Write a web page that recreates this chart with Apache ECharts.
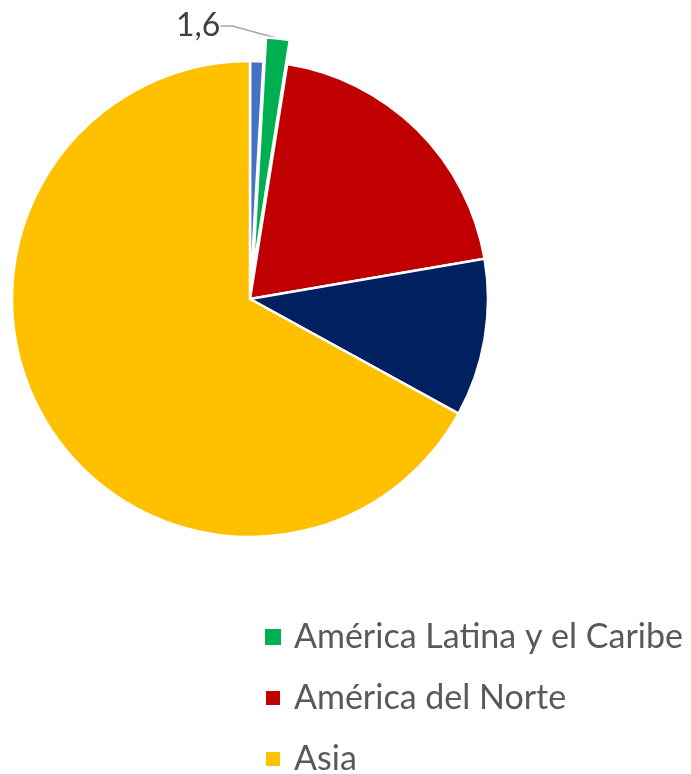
<!DOCTYPE html>
<html><head><meta charset="utf-8">
<script src="https://cdn.jsdelivr.net/npm/echarts@6/dist/echarts.min.js"></script>
<style>html,body{margin:0;padding:0;background:#fff}#c{width:691px;height:774px}</style>
</head><body><div id="c"></div>
<script>
const categories = ['Europa', 'América Latina y el Caribe', 'América del Norte', 'Otros', 'Asia'];
const values = [0.9, 1.6, 19.8, 10.7, 67.0];
const colors = ['#4472C4', '#00B050', '#C00000', '#002060', '#FFC000'];
const legendItems = ['América Latina y el Caribe', 'América del Norte', 'Asia'];
const exploded = 'América Latina y el Caribe';

const CX = 250, CY = 299, R = 238, OFFSET = 24;
const total = values.reduce((a, b) => a + b, 0);
const ei = categories.indexOf(exploded);
const before = values.slice(0, ei).reduce((a, b) => a + b, 0);
const midAng = (before + values[ei] / 2) / total * 2 * Math.PI;
const ecx = CX + OFFSET * Math.sin(midAng), ecy = CY - OFFSET * Math.cos(midAng);
const clear = 'rgba(0,0,0,0)';

const chart = echarts.init(document.getElementById('c'), null, {renderer: 'canvas'});
chart.setOption({
  animation: false,
  legend: {
    data: legendItems.map(n => ({name: n, itemStyle: {color: colors[categories.indexOf(n)]}})),
    orient: 'vertical',
    left: 264,
    top: 620,
    height: 170,
    padding: 0,
    itemWidth: 16,
    itemHeight: 16,
    itemGap: 27,
    icon: 'rect',
    textStyle: {fontFamily: 'Lato', fontSize: 34, color: '#595959', padding: [0, 0, 0, 8]},
    selectedMode: false
  },
  series: [{
    type: 'pie',
    center: [CX, CY],
    radius: [0, R],
    startAngle: 90,
    clockwise: true,
    silent: true,
    emphasis: {disabled: true},
    label: {show: false},
    labelLine: {show: false},
    data: categories.map((n, i) => ({
      name: n,
      value: values[i],
      itemStyle: n === exploded
        ? {color: clear, borderWidth: 0}
        : {color: colors[i], borderColor: '#fff', borderWidth: 2.5}
    }))
  }, {
    type: 'pie',
    center: [ecx, ecy],
    radius: [0, R],
    startAngle: 90,
    clockwise: true,
    silent: true,
    legendHoverLink: false,
    emphasis: {disabled: true},
    avoidLabelOverlap: false,
    data: categories.map((n, i) => ({
      name: n,
      value: values[i],
      itemStyle: n === exploded
        ? {color: colors[i], borderColor: '#fff', borderWidth: 2.5}
        : {color: clear, borderWidth: 0},
      label: {show: n === exploded},
      labelLine: {show: n === exploded}
    })),
    label: {
      position: 'outside',
      formatter: p => String(p.value).replace('.', ','),
      fontFamily: 'Lato',
      fontSize: 32,
      color: '#404040'
    },
    labelLine: {length: 6, length2: 12, lineStyle: {color: '#A6A6A6', width: 1.5}},
    labelLayout: p => p.dataIndex === ei ? {x: 176, y: 26, align: 'left', verticalAlign: 'middle'} : {}
  }]
});
</script></body></html>
